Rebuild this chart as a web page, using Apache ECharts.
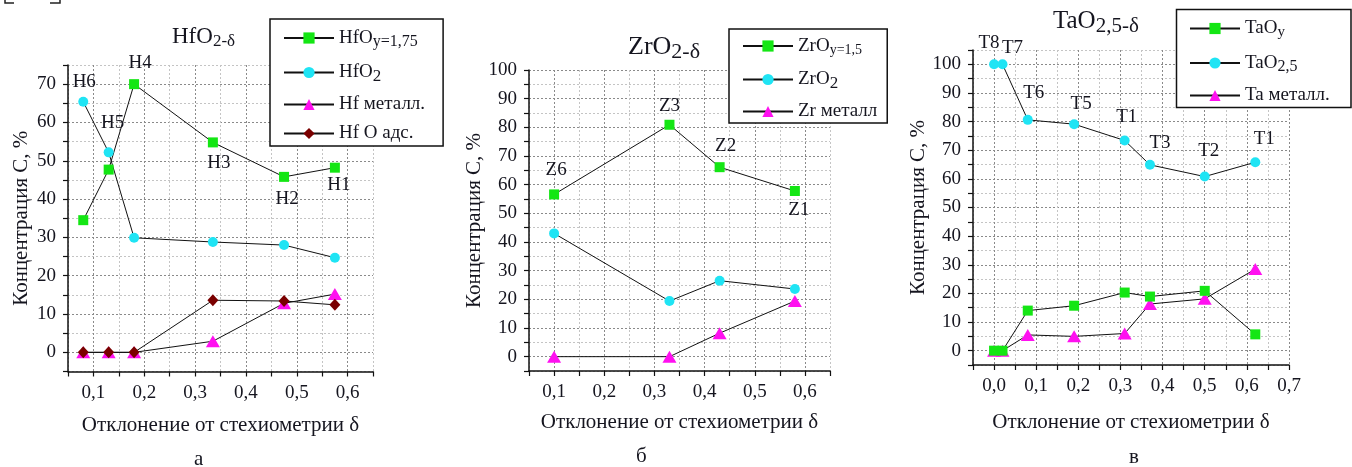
<!DOCTYPE html>
<html><head><meta charset="utf-8">
<script src="https://cdn.jsdelivr.net/npm/echarts@6/dist/echarts.min.js"></script>
<style>html,body{margin:0;padding:0;background:#fff}#c{width:1352px;height:467px}</style>
</head><body><div id="c"></div>
<script>
// ---------- Panel а : HfO2-δ ----------
const hfX      = [0.08, 0.13, 0.18, 0.335, 0.475, 0.575];
const hfOy     = [34.5, 47.7, 70.0, 54.8, 45.8, 48.2];
const hfO2     = [65.4, 52.2, 29.9, 28.8, 28.0, 24.7];
const hfMet    = [0, 0, 0, 2.9, 12.8, 15.2];
const hfOads   = [0, 0, 0, 13.6, 13.4, 12.4];
const hfOyLbl  = ['', '', 'H4', 'H3', 'H2', 'H1'];
const hfO2Lbl  = ['H6', 'H5', '', '', '', ''];

// ---------- Panel б : ZrO2-δ ----------
const zrX      = [0.10, 0.33, 0.43, 0.58];
const zrOy     = [56.6, 80.9, 66.1, 57.8];
const zrO2     = [43.0, 19.4, 26.5, 23.6];
const zrMet    = [0, 0, 8.2, 19.4];
const zrOyLbl  = ['Z6', 'Z3', 'Z2', 'Z1'];

// ---------- Panel в : TaO2,5-δ ----------
const taX      = [0.0, 0.02, 0.08, 0.19, 0.31, 0.37, 0.50, 0.62];
const taOy     = [0, 0, 14.0, 15.7, 20.3, 18.9, 20.9, 5.7];
const taO25    = [100, 100, 80.6, 79.1, 73.4, 64.9, 60.8, 65.8];
const taMet    = [0, 0, 5.5, 5.0, 6.0, 16.3, 18.1, 28.5];
const taO25Lbl = ['T8', 'T7', 'T6', 'T5', 'T1', 'T3', 'T2', 'T1'];

// tick label texts
const xTickText = v => v.toFixed(1).replace('.', ',');
const yAxisName = 'Концентрация С, %';
const xAxisName = 'Отклонение от стехиометрии δ';
const panelLetters = ['а', 'б', 'в'];

// ---------- styling (not data) ----------
const FF = 'Liberation Serif';
const TXT = '#15151f';
const GREEN = '#14e614', CYAN = '#1fe4f4', MAG = '#ff10f0', DRED = '#7a0000';

const offA_Oy = [null, null, [6,-21], [6,21], [3,22], [4,17]];
const offA_O2 = [[1,-20], [4,-29], null, null, null, null];
const offB_Oy = [[2,-24], [0,-19], [6,-21], [4,19]];
const offC    = [[-5,-21], [10,-16], [6,-27], [7,-20], [2,-23], [10,-22], [4,-26], [9,-23]];

function mk(name, xs, ys, gi, sym, size, color, labels, offs) {
  return {
    name, type: 'line', xAxisIndex: gi, yAxisIndex: gi,
    symbol: sym, symbolSize: size, showSymbol: true,
    itemStyle: { color, borderWidth: 0 },
    lineStyle: { color: '#111', width: 1 },
    emphasis: { disabled: true },
    animation: false,
    data: xs.map((x, i) => {
      const d = { value: [x, ys[i]] };
      if (labels && labels[i]) {
        d.label = { show: true, formatter: labels[i], position: 'inside', offset: offs[i],
          fontFamily: FF, fontSize: 19, color: TXT };
      }
      return d;
    })
  };
}

function xAx(gi, min, max, gap) {
  return {
    type: 'value', gridIndex: gi, min, max, interval: 0.05,
    name: xAxisName, nameLocation: 'middle', nameGap: gap,
    nameTextStyle: { fontFamily: FF, fontSize: 21, color: TXT },
    axisLine: { show: true, onZero: false, lineStyle: { color: '#111', width: 1.5 } },
    axisTick: { show: true, length: 5, lineStyle: { color: '#111', width: 1.2 } },
    axisLabel: { margin: 12, fontFamily: FF, fontSize: 19, color: TXT,
      formatter: v => (Math.abs(v * 10 - Math.round(v * 10)) < 1e-6) ? xTickText(v) : '' },
    splitLine: { show: true, lineStyle: { type: [2, 2], width: 1, color: ['#c4c4c4', '#8a8a8a'] } }
  };
}
function yAx(gi, min, max, gap) {
  return {
    type: 'value', gridIndex: gi, min, max, interval: 5,
    name: yAxisName, nameLocation: 'middle', nameGap: gap,
    nameTextStyle: { fontFamily: FF, fontSize: 21, color: TXT },
    axisLine: { show: true, onZero: false, lineStyle: { color: '#111', width: 1.5 } },
    axisTick: { show: true, length: 5, lineStyle: { color: '#111', width: 1.2 } },
    axisLabel: { margin: 12, fontFamily: FF, fontSize: 19, color: TXT,
      formatter: v => (v >= 0 && v % 10 === 0) ? String(v) : '' },
    splitLine: { show: true, lineStyle: { type: [2, 2], width: 1, color: ['#c4c4c4', '#8a8a8a'] } }
  };
}

const legendRich = {
  'HfOy=1,75': '{m|HfO}{s16|y=1,75}',
  'HfO2': '{m|HfO}{s17|2}',
  'Hf металл.': '{m|Hf металл.}',
  'Hf O адс.': '{m|Hf O адс.}',
  'ZrOy=1,5': '{m|ZrO}{s14|y=1,5}',
  'ZrO2': '{m|ZrO}{s17|2}',
  'Zr металл': '{m|Zr металл}',
  'TaOy': '{m|TaO}{s15|y}',
  'TaO2,5': '{m|TaO}{s16|2,5}',
  'Ta металл.': '{m|Ta металл.}'
};
function sub(sz) {
  return { fontFamily: FF, fontSize: sz, color: TXT, lineHeight: 27, padding: [8, 0, 0, 0] };
}
function leg(names, left, top, pad, gap, border) {
  return {
    data: names, orient: 'vertical', left, top, padding: pad, itemGap: gap,
    itemWidth: 50, itemHeight: 14, borderColor: '#111', borderWidth: border, borderRadius: 0,
    backgroundColor: border ? '#fff' : 'transparent', selectedMode: false,
    formatter: n => legendRich[n],
    textStyle: { fontFamily: FF, fontSize: 19, color: TXT,
      rich: {
        m: { fontFamily: FF, fontSize: 19, color: TXT, lineHeight: 27 },
        s14: sub(14), s15: sub(15), s16: sub(16), s17: sub(17)
      } }
  };
}
function ttl(main, subTxt, left, top, mSize, sSize, pad) {
  return {
    text: '{m|' + main + '}{s|' + subTxt + '}', left, top, padding: 0,
    textStyle: { fontWeight: 'normal', rich: {
      m: { fontFamily: FF, fontSize: mSize, color: TXT, fontWeight: 'normal' },
      s: { fontFamily: FF, fontSize: sSize, color: TXT, fontWeight: 'normal', padding: [pad, 0, 0, 0] }
    } }
  };
}

const chart = echarts.init(document.getElementById('c'), null, { renderer: 'canvas' });
chart.setOption({
  backgroundColor: '#fff',
  animation: false,
  title: [
    ttl('HfO', '2-δ', 172, 23, 23, 17, 10),
    ttl('ZrO', '2-δ', 628, 31, 26, 22, 10),
    ttl('TaO', '2,5-δ', 1053, 6, 25, 21, 10)
  ],
  grid: [
    { left: 68, top: 65, width: 305, height: 306.5 },
    { left: 529, top: 70, width: 301, height: 301 },
    { left: 973, top: 50, width: 316, height: 315 }
  ],
  xAxis: [xAx(0, 0.05, 0.65, 43), xAx(1, 0.05, 0.65, 41), xAx(2, -0.05, 0.7, 47)],
  yAxis: [yAx(0, -5, 75, 36), yAx(1, -5, 100, 43), yAx(2, -5, 105, 44)],
  legend: [
    leg(['HfOy=1,75', 'HfO2', 'Hf металл.', 'Hf O адс.'], 270, 19, [7, 18, 3, 13], 10, 1.5),
    leg(['ZrOy=1,5', 'ZrO2', 'Zr металл'], 729, 29, [6, 10, 2, 13], 10, 1.5),
    leg(['TaOy', 'TaO2,5', 'Ta металл.'], 1176, 9, [8, 10, 1, 13], 11, 0)
  ],
  series: [
    mk('HfOy=1,75', hfX, hfOy, 0, 'rect', 10, GREEN, hfOyLbl, offA_Oy),
    mk('HfO2', hfX, hfO2, 0, 'circle', 10, CYAN, hfO2Lbl, offA_O2),
    mk('Hf металл.', hfX, hfMet, 0, 'triangle', [14, 12], MAG),
    mk('Hf O адс.', hfX, hfOads, 0, 'diamond', [11, 12], DRED),
    mk('ZrOy=1,5', zrX, zrOy, 1, 'rect', 10, GREEN, zrOyLbl, offB_Oy),
    mk('ZrO2', zrX, zrO2, 1, 'circle', 10, CYAN),
    mk('Zr металл', zrX, zrMet, 1, 'triangle', [14, 12], MAG),
    mk('Ta металл.', taX, taMet, 2, 'triangle', [14, 12], MAG),
    mk('TaOy', taX, taOy, 2, 'rect', 10, GREEN),
    mk('TaO2,5', taX, taO25, 2, 'circle', 10, CYAN, taO25Lbl, offC)
  ],
  graphic: [
    { type: 'rect', z: 3, shape: { x: 1176.5, y: 9.5, width: 174.5, height: 98 },
      style: { fill: '#fff', stroke: '#111', lineWidth: 1.5 } },
    { type: 'text', left: 194, top: 449, style: { text: panelLetters[0], font: '21px "Liberation Serif"', fill: TXT } },
    { type: 'text', left: 636, top: 446, style: { text: panelLetters[1], font: '21px "Liberation Serif"', fill: TXT } },
    { type: 'text', left: 1129, top: 447, style: { text: panelLetters[2], font: '21px "Liberation Serif"', fill: TXT } },
    { type: 'polyline', shape: { points: [[5, 0], [5, 3], [14, 3]] }, style: { stroke: '#222', lineWidth: 1.5, fill: null } },
    { type: 'polyline', shape: { points: [[50, 3], [60, 3], [60, 0]] }, style: { stroke: '#222', lineWidth: 1.5, fill: null } }
  ]
});
</script>
</body></html>
